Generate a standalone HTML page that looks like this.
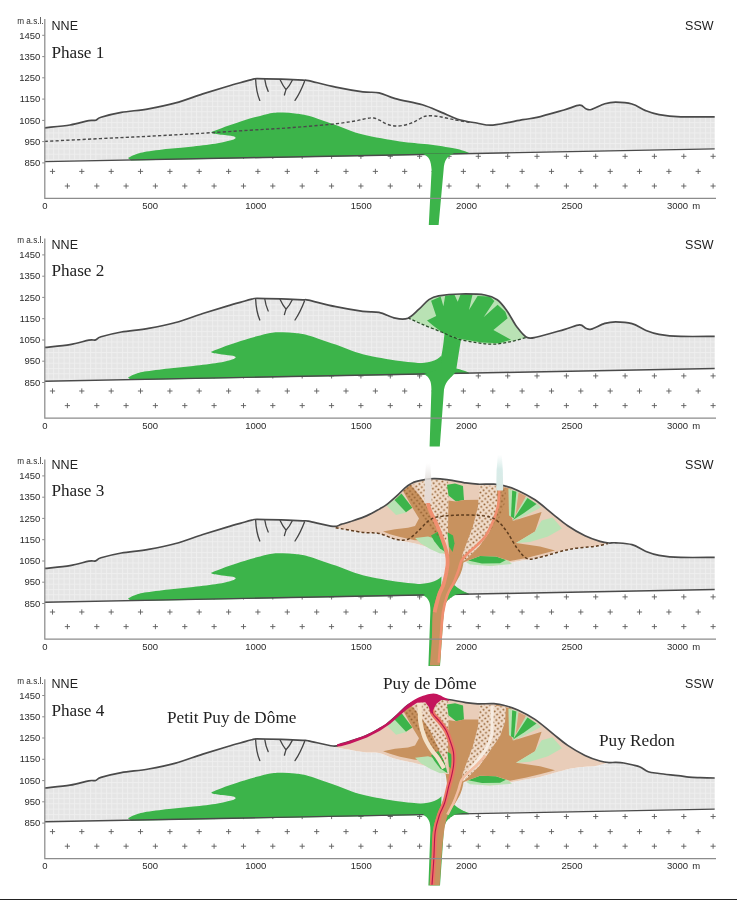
<!DOCTYPE html>
<html lang="en">
<head>
<meta charset="utf-8">
<title>Puy de Dôme growth phases</title>
<style>
html,body{margin:0;padding:0;background:#fff;}
body{width:737px;height:900px;overflow:hidden;position:relative;}
.b{position:absolute;left:0;top:898.8px;width:737px;height:1.2px;background:#222;}
svg{display:block;filter:blur(0.75px);}
.t{font-family:"Liberation Sans",sans-serif;font-size:9.5px;fill:#2a2a2a;}
.m{font-family:"Liberation Sans",sans-serif;font-size:8.2px;fill:#2a2a2a;}
.n{font-family:"Liberation Sans",sans-serif;font-size:12.5px;fill:#222;}
.p{font-family:"Liberation Serif",serif;font-size:17.2px;fill:#222;}
</style>
</head>
<body>
<svg width="737" height="900" viewBox="0 0 737 900">
<defs>
<pattern id="grid" width="5.3" height="5.3" patternUnits="userSpaceOnUse">
<rect width="5.3" height="5.3" fill="#e5e5e5"/>
<path d="M0 0.5H5.3M0.5 0V5.3" stroke="#efefef" stroke-width="0.8" fill="none"/>
</pattern>
<linearGradient id="pl1" x1="0" y1="0" x2="0" y2="1">
<stop offset="0" stop-color="#e6e3e1" stop-opacity="0"/><stop offset="0.45" stop-color="#e3dfdc" stop-opacity="0.95"/><stop offset="1" stop-color="#e6d9d2"/>
</linearGradient>
<linearGradient id="pl2" x1="0" y1="0" x2="0" y2="1">
<stop offset="0" stop-color="#d9edea" stop-opacity="0"/><stop offset="0.4" stop-color="#d6ebe8" stop-opacity="0.95"/><stop offset="1" stop-color="#d9e9e4"/>
</linearGradient>
<pattern id="dotsT" width="5.6" height="5.6" patternUnits="userSpaceOnUse" patternTransform="rotate(8)">
<circle cx="1.4" cy="1.4" r="1" fill="#93602f"/>
<circle cx="4.2" cy="4.2" r="1" fill="#93602f"/>
</pattern>
</defs>
<rect width="737" height="900" fill="#fff"/>
<g transform="translate(0 0.0)">
<path d="M64.8 156.3h5.2M67.4 153.7v5.2M94.2 156.3h5.2M96.8 153.7v5.2M123.5 156.3h5.2M126.1 153.7v5.2M152.8 156.3h5.2M155.4 153.7v5.2M182.2 156.3h5.2M184.8 153.7v5.2M211.5 156.3h5.2M214.1 153.7v5.2M240.9 156.3h5.2M243.5 153.7v5.2M270.2 156.3h5.2M272.8 153.7v5.2M299.6 156.3h5.2M302.2 153.7v5.2M328.9 156.3h5.2M331.6 153.7v5.2M358.3 156.3h5.2M360.9 153.7v5.2M387.7 156.3h5.2M390.3 153.7v5.2M417.0 156.3h5.2M419.6 153.7v5.2M446.4 156.3h5.2M449.0 153.7v5.2M475.7 156.3h5.2M478.3 153.7v5.2M505.1 156.3h5.2M507.7 153.7v5.2M534.4 156.3h5.2M537.0 153.7v5.2M563.8 156.3h5.2M566.4 153.7v5.2M593.1 156.3h5.2M595.7 153.7v5.2M622.5 156.3h5.2M625.1 153.7v5.2M651.8 156.3h5.2M654.4 153.7v5.2M681.2 156.3h5.2M683.8 153.7v5.2M710.5 156.3h5.2M713.1 153.7v5.2M49.9 171.4h5.2M52.5 168.8v5.2M79.2 171.4h5.2M81.8 168.8v5.2M108.6 171.4h5.2M111.2 168.8v5.2M137.9 171.4h5.2M140.5 168.8v5.2M167.3 171.4h5.2M169.9 168.8v5.2M196.6 171.4h5.2M199.2 168.8v5.2M226.0 171.4h5.2M228.6 168.8v5.2M255.3 171.4h5.2M257.9 168.8v5.2M284.7 171.4h5.2M287.3 168.8v5.2M314.1 171.4h5.2M316.7 168.8v5.2M343.4 171.4h5.2M346.0 168.8v5.2M372.8 171.4h5.2M375.4 168.8v5.2M402.1 171.4h5.2M404.7 168.8v5.2M431.5 171.4h5.2M434.1 168.8v5.2M460.8 171.4h5.2M463.4 168.8v5.2M490.2 171.4h5.2M492.8 168.8v5.2M519.5 171.4h5.2M522.1 168.8v5.2M548.9 171.4h5.2M551.5 168.8v5.2M578.2 171.4h5.2M580.8 168.8v5.2M607.6 171.4h5.2M610.2 168.8v5.2M636.9 171.4h5.2M639.5 168.8v5.2M666.3 171.4h5.2M668.9 168.8v5.2M695.6 171.4h5.2M698.2 168.8v5.2M64.8 186.0h5.2M67.4 183.4v5.2M94.2 186.0h5.2M96.8 183.4v5.2M123.5 186.0h5.2M126.1 183.4v5.2M152.8 186.0h5.2M155.4 183.4v5.2M182.2 186.0h5.2M184.8 183.4v5.2M211.5 186.0h5.2M214.1 183.4v5.2M240.9 186.0h5.2M243.5 183.4v5.2M270.2 186.0h5.2M272.8 183.4v5.2M299.6 186.0h5.2M302.2 183.4v5.2M328.9 186.0h5.2M331.6 183.4v5.2M358.3 186.0h5.2M360.9 183.4v5.2M387.7 186.0h5.2M390.3 183.4v5.2M417.0 186.0h5.2M419.6 183.4v5.2M446.4 186.0h5.2M449.0 183.4v5.2M475.7 186.0h5.2M478.3 183.4v5.2M505.1 186.0h5.2M507.7 183.4v5.2M534.4 186.0h5.2M537.0 183.4v5.2M563.8 186.0h5.2M566.4 183.4v5.2M593.1 186.0h5.2M595.7 183.4v5.2M622.5 186.0h5.2M625.1 183.4v5.2M651.8 186.0h5.2M654.4 183.4v5.2M681.2 186.0h5.2M683.8 183.4v5.2M710.5 186.0h5.2M713.1 183.4v5.2" stroke="#5c5c5c" stroke-width="0.9" fill="none"/>
<path d="M44.8 127.8 C49.0 127.3 62.7 126.2 70.0 125.0 C77.3 123.8 84.5 121.4 88.8 120.6 C93.1 119.8 93.6 120.9 95.6 120.3 C97.6 119.7 96.7 118.5 101.0 117.2 C105.3 115.9 113.5 113.8 121.4 112.4 C129.3 111.0 139.4 110.4 148.5 108.8 C157.6 107.2 166.6 105.4 175.7 102.9 C184.8 100.4 194.2 96.6 202.8 93.9 C211.4 91.2 220.0 88.6 227.0 86.5 C234.0 84.4 240.8 82.6 245.0 81.4 C249.2 80.2 250.5 79.9 252.5 79.4 C254.5 79.0 252.2 78.7 257.0 78.7 C261.8 78.7 273.7 79.0 281.4 79.2 C289.1 79.5 298.5 80.0 303.0 80.2 C307.5 80.4 303.1 79.4 308.5 80.6 C313.9 81.8 326.6 85.2 335.7 87.1 C344.8 89.0 355.6 90.8 362.8 91.8 C370.0 92.8 373.6 91.7 379.0 92.8 C384.4 93.9 388.1 96.6 395.3 98.6 C402.5 100.6 414.7 102.5 422.4 104.8 C430.1 107.1 435.5 110.0 441.4 112.4 C447.3 114.8 451.8 117.4 457.7 119.2 C463.6 121.0 470.8 122.0 476.7 123.0 C482.6 124.0 485.3 125.6 493.0 125.1 C500.7 124.5 515.5 121.0 522.8 119.7 C530.1 118.4 530.1 119.0 537.0 117.4 C543.9 115.8 556.9 112.0 564.0 110.0 C571.1 108.0 576.0 105.4 579.6 105.2 C583.2 105.0 583.8 108.0 585.8 108.7 C587.8 109.4 588.1 110.3 591.3 109.5 C594.5 108.7 600.7 105.0 604.8 103.8 C608.9 102.6 611.2 102.2 615.7 102.2 C620.2 102.2 627.0 102.6 632.0 104.0 C637.0 105.4 641.0 108.8 645.5 110.6 C650.0 112.4 653.1 113.7 659.0 114.7 C664.9 115.7 671.5 116.5 680.8 116.8 C690.1 117.1 709.1 116.8 714.7 116.8 L714.7 148.9 L44.8 161.6 Z" fill="url(#grid)"/>
<path d="M128.0 158.0 C129.0 157.5 131.3 156.0 134.0 155.0 C136.7 154.0 138.6 153.0 144.4 152.0 C150.2 151.0 160.8 149.7 168.9 148.8 C177.1 147.9 185.2 147.3 193.3 146.4 C201.4 145.5 211.6 144.2 217.7 143.2 C223.8 142.2 227.0 141.4 230.0 140.6 C233.0 139.8 235.0 138.9 235.5 138.2 C236.0 137.5 235.2 136.8 233.0 136.2 C230.8 135.6 225.4 135.3 222.0 134.8 C218.6 134.3 213.8 133.8 212.5 133.2 C211.2 132.6 209.3 133.0 214.0 131.0 C218.7 129.0 231.7 124.2 240.7 121.4 C249.7 118.6 261.0 115.4 267.8 113.9 C274.6 112.4 276.9 112.7 281.4 112.6 C285.9 112.5 290.5 112.9 295.0 113.4 C299.5 113.9 301.7 113.9 308.5 115.8 C315.3 117.7 326.6 121.9 335.7 125.0 C344.8 128.1 352.1 131.9 362.8 134.6 C373.5 137.3 389.2 139.8 400.0 141.4 C410.8 143.0 418.6 143.1 427.8 144.3 C437.0 145.5 448.2 147.2 455.0 148.6 C461.8 150.0 466.2 151.9 468.5 152.6 L469 154.1 L131 160.5 Z" fill="#3cb44a"/>
<path d="M44.8 161.6 L714.7 148.9" stroke="#4a4a4a" stroke-width="1.4" fill="none"/>
<path d="M423 153.9 C429 156.5 431 160 431.6 170 L428.8 225 L438.6 225 L443.6 170 C444.2 160 447 156.5 454 153.3 Z" fill="#3cb44a"/>
<path d="M44.8 141.4 C54.0 140.9 82.5 139.5 100.0 138.6 C117.5 137.7 133.3 137.1 150.0 136.2 C166.7 135.3 183.3 134.4 200.0 133.4 C216.7 132.4 235.1 131.1 250.0 130.2 C264.9 129.3 276.2 128.8 289.5 127.8 C302.8 126.8 319.1 125.5 330.0 124.4 C340.9 123.3 348.8 122.0 355.0 121.0 C361.2 120.0 363.9 118.9 367.0 118.4 C370.1 117.9 371.5 117.7 373.7 118.0 C375.9 118.3 377.8 119.4 380.0 120.4 C382.2 121.4 384.5 123.3 387.0 124.2 C389.5 125.1 392.3 125.8 395.0 126.0 C397.7 126.2 400.7 125.9 403.4 125.4 C406.1 124.9 408.7 124.0 411.0 123.2 C413.3 122.4 415.0 121.4 417.0 120.4 C419.0 119.4 421.2 117.8 423.0 117.0 C424.8 116.2 425.8 116.0 427.8 115.8 C429.8 115.6 432.7 115.8 435.0 116.0 C437.3 116.2 438.9 116.5 441.4 117.0 C443.9 117.5 447.3 118.2 450.0 118.8 C452.7 119.4 454.4 119.8 457.7 120.4 C461.0 121.0 467.9 122.1 470.0 122.4" stroke="#4a4a4a" stroke-width="1.4" fill="none" stroke-dasharray="3.2 2.2"/>
<path d="M255.6 79 C256 88 257.5 95 259.8 100.4 M264.8 79.4 C265.4 84 266.6 88 268.2 91.4 M280 79.6 C281.5 83 283.5 86.5 286 89.6 M292.3 80.2 C290.5 84 288.5 87 286 89.6 C285.4 91.5 285 93 284.4 95 M304.6 81.2 C302 88 299 94.5 295 100.4" fill="none" stroke="#444" stroke-width="1.3" stroke-linecap="round"/>
<path d="M44.8 127.8 C49.0 127.3 62.7 126.2 70.0 125.0 C77.3 123.8 84.5 121.4 88.8 120.6 C93.1 119.8 93.6 120.9 95.6 120.3 C97.6 119.7 96.7 118.5 101.0 117.2 C105.3 115.9 113.5 113.8 121.4 112.4 C129.3 111.0 139.4 110.4 148.5 108.8 C157.6 107.2 166.6 105.4 175.7 102.9 C184.8 100.4 194.2 96.6 202.8 93.9 C211.4 91.2 220.0 88.6 227.0 86.5 C234.0 84.4 240.8 82.6 245.0 81.4 C249.2 80.2 250.5 79.9 252.5 79.4 C254.5 79.0 252.2 78.7 257.0 78.7 C261.8 78.7 273.7 79.0 281.4 79.2 C289.1 79.5 298.5 80.0 303.0 80.2 C307.5 80.4 303.1 79.4 308.5 80.6 C313.9 81.8 326.6 85.2 335.7 87.1 C344.8 89.0 355.6 90.8 362.8 91.8 C370.0 92.8 373.6 91.7 379.0 92.8 C384.4 93.9 388.1 96.6 395.3 98.6 C402.5 100.6 414.7 102.5 422.4 104.8 C430.1 107.1 435.5 110.0 441.4 112.4 C447.3 114.8 451.8 117.4 457.7 119.2 C463.6 121.0 470.8 122.0 476.7 123.0 C482.6 124.0 485.3 125.6 493.0 125.1 C500.7 124.5 515.5 121.0 522.8 119.7 C530.1 118.4 530.1 119.0 537.0 117.4 C543.9 115.8 556.9 112.0 564.0 110.0 C571.1 108.0 576.0 105.4 579.6 105.2 C583.2 105.0 583.8 108.0 585.8 108.7 C587.8 109.4 588.1 110.3 591.3 109.5 C594.5 108.7 600.7 105.0 604.8 103.8 C608.9 102.6 611.2 102.2 615.7 102.2 C620.2 102.2 627.0 102.6 632.0 104.0 C637.0 105.4 641.0 108.8 645.5 110.6 C650.0 112.4 653.1 113.7 659.0 114.7 C664.9 115.7 671.5 116.5 680.8 116.8 C690.1 117.1 709.1 116.8 714.7 116.8" stroke="#4a4a4a" stroke-width="1.7" fill="none" stroke-linejoin="round"/>
<path d="M44.8 19V198.4H716" fill="none" stroke="#8c8c8c" stroke-width="1.25"/>
<text x="40.3" y="38.5" class="t" text-anchor="end">1450</text>
<text x="40.3" y="59.8" class="t" text-anchor="end">1350</text>
<text x="40.3" y="81.0" class="t" text-anchor="end">1250</text>
<text x="40.3" y="102.3" class="t" text-anchor="end">1150</text>
<text x="40.3" y="123.6" class="t" text-anchor="end">1050</text>
<text x="40.3" y="144.8" class="t" text-anchor="end">950</text>
<text x="40.3" y="166.1" class="t" text-anchor="end">850</text>
<path d="M42.2 35.3H44.8M42.2 56.6H44.8M42.2 77.8H44.8M42.2 99.1H44.8M42.2 120.4H44.8M42.2 141.6H44.8M42.2 162.9H44.8" stroke="#8c8c8c" stroke-width="1"/>
<text x="43.6" y="23.6" class="m" text-anchor="end">m a.s.l.</text>
<text x="44.8" y="209.2" class="t" text-anchor="middle">0</text>
<text x="150.2" y="209.2" class="t" text-anchor="middle">500</text>
<text x="255.7" y="209.2" class="t" text-anchor="middle">1000</text>
<text x="361.2" y="209.2" class="t" text-anchor="middle">1500</text>
<text x="466.6" y="209.2" class="t" text-anchor="middle">2000</text>
<text x="572.0" y="209.2" class="t" text-anchor="middle">2500</text>
<text x="666.9" y="209.2" class="t" style="word-spacing:1.6px">3000 m</text>
<text x="51.6" y="30.4" class="n">NNE</text>
<text x="713.6" y="30.4" class="n" text-anchor="end">SSW</text>
<text x="51.4" y="58.3" class="p">Phase 1</text>
</g>
<g transform="translate(0 219.6)">
<path d="M64.8 156.3h5.2M67.4 153.7v5.2M94.2 156.3h5.2M96.8 153.7v5.2M123.5 156.3h5.2M126.1 153.7v5.2M152.8 156.3h5.2M155.4 153.7v5.2M182.2 156.3h5.2M184.8 153.7v5.2M211.5 156.3h5.2M214.1 153.7v5.2M240.9 156.3h5.2M243.5 153.7v5.2M270.2 156.3h5.2M272.8 153.7v5.2M299.6 156.3h5.2M302.2 153.7v5.2M328.9 156.3h5.2M331.6 153.7v5.2M358.3 156.3h5.2M360.9 153.7v5.2M387.7 156.3h5.2M390.3 153.7v5.2M417.0 156.3h5.2M419.6 153.7v5.2M446.4 156.3h5.2M449.0 153.7v5.2M475.7 156.3h5.2M478.3 153.7v5.2M505.1 156.3h5.2M507.7 153.7v5.2M534.4 156.3h5.2M537.0 153.7v5.2M563.8 156.3h5.2M566.4 153.7v5.2M593.1 156.3h5.2M595.7 153.7v5.2M622.5 156.3h5.2M625.1 153.7v5.2M651.8 156.3h5.2M654.4 153.7v5.2M681.2 156.3h5.2M683.8 153.7v5.2M710.5 156.3h5.2M713.1 153.7v5.2M49.9 171.4h5.2M52.5 168.8v5.2M79.2 171.4h5.2M81.8 168.8v5.2M108.6 171.4h5.2M111.2 168.8v5.2M137.9 171.4h5.2M140.5 168.8v5.2M167.3 171.4h5.2M169.9 168.8v5.2M196.6 171.4h5.2M199.2 168.8v5.2M226.0 171.4h5.2M228.6 168.8v5.2M255.3 171.4h5.2M257.9 168.8v5.2M284.7 171.4h5.2M287.3 168.8v5.2M314.1 171.4h5.2M316.7 168.8v5.2M343.4 171.4h5.2M346.0 168.8v5.2M372.8 171.4h5.2M375.4 168.8v5.2M402.1 171.4h5.2M404.7 168.8v5.2M431.5 171.4h5.2M434.1 168.8v5.2M460.8 171.4h5.2M463.4 168.8v5.2M490.2 171.4h5.2M492.8 168.8v5.2M519.5 171.4h5.2M522.1 168.8v5.2M548.9 171.4h5.2M551.5 168.8v5.2M578.2 171.4h5.2M580.8 168.8v5.2M607.6 171.4h5.2M610.2 168.8v5.2M636.9 171.4h5.2M639.5 168.8v5.2M666.3 171.4h5.2M668.9 168.8v5.2M695.6 171.4h5.2M698.2 168.8v5.2M64.8 186.0h5.2M67.4 183.4v5.2M94.2 186.0h5.2M96.8 183.4v5.2M123.5 186.0h5.2M126.1 183.4v5.2M152.8 186.0h5.2M155.4 183.4v5.2M182.2 186.0h5.2M184.8 183.4v5.2M211.5 186.0h5.2M214.1 183.4v5.2M240.9 186.0h5.2M243.5 183.4v5.2M270.2 186.0h5.2M272.8 183.4v5.2M299.6 186.0h5.2M302.2 183.4v5.2M328.9 186.0h5.2M331.6 183.4v5.2M358.3 186.0h5.2M360.9 183.4v5.2M387.7 186.0h5.2M390.3 183.4v5.2M417.0 186.0h5.2M419.6 183.4v5.2M446.4 186.0h5.2M449.0 183.4v5.2M475.7 186.0h5.2M478.3 183.4v5.2M505.1 186.0h5.2M507.7 183.4v5.2M534.4 186.0h5.2M537.0 183.4v5.2M563.8 186.0h5.2M566.4 183.4v5.2M593.1 186.0h5.2M595.7 183.4v5.2M622.5 186.0h5.2M625.1 183.4v5.2M651.8 186.0h5.2M654.4 183.4v5.2M681.2 186.0h5.2M683.8 183.4v5.2M710.5 186.0h5.2M713.1 183.4v5.2" stroke="#5c5c5c" stroke-width="0.9" fill="none"/>
<path d="M44.8 127.8 C49.0 127.3 62.7 126.2 70.0 125.0 C77.3 123.8 84.5 121.4 88.8 120.6 C93.1 119.8 93.6 120.9 95.6 120.3 C97.6 119.7 96.7 118.5 101.0 117.2 C105.3 115.9 113.5 113.8 121.4 112.4 C129.3 111.0 139.4 110.4 148.5 108.8 C157.6 107.2 166.6 105.4 175.7 102.9 C184.8 100.4 194.2 96.6 202.8 93.9 C211.4 91.2 220.0 88.6 227.0 86.5 C234.0 84.4 240.8 82.6 245.0 81.4 C249.2 80.2 250.5 79.9 252.5 79.4 C254.5 79.0 252.2 78.7 257.0 78.7 C261.8 78.7 273.7 79.0 281.4 79.2 C289.1 79.5 298.5 80.0 303.0 80.2 C307.5 80.4 303.1 79.4 308.5 80.6 C313.9 81.8 326.6 85.2 335.7 87.1 C344.8 89.0 355.6 90.8 362.8 91.8 C370.0 92.8 373.6 91.7 379.0 92.8 C384.4 93.9 390.5 97.6 395.3 98.6 C400.1 99.6 404.1 100.1 408.0 98.6 C411.9 97.1 415.5 92.7 419.0 89.6 C422.5 86.5 425.6 82.2 428.9 80.0 C432.2 77.8 433.3 77.1 438.6 76.2 C443.9 75.3 452.9 74.5 460.6 74.4 C468.3 74.3 478.9 74.4 485.0 75.4 C491.1 76.4 493.5 77.6 497.2 80.2 C500.9 82.8 503.7 86.8 507.0 91.3 C510.3 95.8 513.5 102.8 516.8 107.2 C520.1 111.6 523.2 116.0 526.6 117.7 C530.0 119.4 530.8 118.7 537.0 117.4 C543.2 116.1 556.9 112.0 564.0 110.0 C571.1 108.0 576.0 105.4 579.6 105.2 C583.2 105.0 583.8 108.0 585.8 108.7 C587.8 109.4 588.1 110.3 591.3 109.5 C594.5 108.7 600.7 105.0 604.8 103.8 C608.9 102.6 611.2 102.2 615.7 102.2 C620.2 102.2 627.0 102.6 632.0 104.0 C637.0 105.4 641.0 108.8 645.5 110.6 C650.0 112.4 653.1 113.7 659.0 114.7 C664.9 115.7 671.5 116.5 680.8 116.8 C690.1 117.1 709.1 116.8 714.7 116.8 L714.7 148.9 L44.8 161.6 Z" fill="url(#grid)"/>
<path d="M408.0 98.6 C409.8 97.1 415.5 92.7 419.0 89.6 C422.5 86.5 425.6 82.2 428.9 80.0 C432.2 77.8 433.3 77.1 438.6 76.2 C443.9 75.3 452.9 74.5 460.6 74.4 C468.3 74.3 478.9 74.4 485.0 75.4 C491.1 76.4 493.5 77.6 497.2 80.2 C500.9 82.8 503.7 86.8 507.0 91.3 C510.3 95.8 513.5 102.8 516.8 107.2 C520.1 111.6 525.0 116.0 526.6 117.7 L526.6 117.7 C523.8 118.5 515.6 121.1 510.0 122.2 C504.4 123.3 498.6 124.5 493.0 124.6 C487.4 124.7 482.6 123.9 476.7 123.0 C470.8 122.1 463.6 121.0 457.7 119.2 C451.8 117.4 447.3 114.8 441.4 112.4 C435.5 110.0 428.0 107.2 422.4 104.8 C416.8 102.4 410.4 99.3 408.0 98.2 Z" fill="#b9e2b4"/>
<path d="M128.0 158.0 C129.0 157.5 131.3 156.0 134.0 155.0 C136.7 154.0 138.6 153.0 144.4 152.0 C150.2 151.0 160.8 149.7 168.9 148.8 C177.1 147.9 185.2 147.3 193.3 146.4 C201.4 145.5 211.6 144.2 217.7 143.2 C223.8 142.2 227.0 141.4 230.0 140.6 C233.0 139.8 235.0 138.9 235.5 138.2 C236.0 137.5 235.2 136.8 233.0 136.2 C230.8 135.6 225.4 135.3 222.0 134.8 C218.6 134.3 213.8 133.8 212.5 133.2 C211.2 132.6 209.3 133.0 214.0 131.0 C218.7 129.0 231.7 124.2 240.7 121.4 C249.7 118.6 261.0 115.4 267.8 113.9 C274.6 112.4 276.9 112.7 281.4 112.6 C285.9 112.5 290.5 112.9 295.0 113.4 C299.5 113.9 301.7 113.9 308.5 115.8 C315.3 117.7 326.6 121.9 335.7 125.0 C344.8 128.1 352.1 131.9 362.8 134.6 C373.5 137.3 389.2 139.8 400.0 141.4 C410.8 143.0 418.6 143.1 427.8 144.3 C437.0 145.5 448.2 147.2 455.0 148.6 C461.8 150.0 466.2 151.9 468.5 152.6 L469 154.1 L131 160.5 Z" fill="#3cb44a"/>
<path d="M44.8 161.6 L714.7 148.9" stroke="#4a4a4a" stroke-width="1.4" fill="none"/>
<path d="M429.6 226.8 L431.4 170 C431.4 162 430 158 424 154.4 L438 150 C441 140 443 130 444.5 114 L461 120 C459 132 457.5 142 456 152 C452 158 446 160 444 170 L439.8 226.8 Z" fill="#3cb44a"/><path d="M416 144 C428 143.4 436 142 441.5 136 L441 151 L416 151 Z" fill="#3cb44a"/>
<path d="M444.0 114.2 L433.0 105.9 L427.0 100.8 L436.2 96.4 L431.1 81.2 L440.6 76.8 L443.4 86.7 L445.2 76.2 L454.4 75.0 L457.7 82.1 L460.6 74.6 L472.6 74.6 L469.0 90.3 L477.6 76.4 L489.8 77.0 L494.4 81.4 L483.6 97.7 L497.6 85.2 L505.3 92.2 L507.6 98.6 L493.4 110.5 L511.0 120.2 L499.0 123.6 L482.4 123.0 L460.5 119.4 Z" fill="#3cb44a"/>
<path d="M408.0 98.2 C410.4 99.3 416.8 102.4 422.4 104.8 C428.0 107.2 435.5 110.0 441.4 112.4 C447.3 114.8 451.8 117.4 457.7 119.2 C463.6 121.0 470.8 122.1 476.7 123.0 C482.6 123.9 487.4 124.7 493.0 124.6 C498.6 124.5 504.4 123.3 510.0 122.2 C515.6 121.1 523.8 118.5 526.6 117.7" stroke="#2a4a2a" stroke-width="1.3" fill="none" stroke-dasharray="3 2"/>
<path d="M255.6 79 C256 88 257.5 95 259.8 100.4 M264.8 79.4 C265.4 84 266.6 88 268.2 91.4 M280 79.6 C281.5 83 283.5 86.5 286 89.6 M292.3 80.2 C290.5 84 288.5 87 286 89.6 C285.4 91.5 285 93 284.4 95 M304.6 81.2 C302 88 299 94.5 295 100.4" fill="none" stroke="#444" stroke-width="1.3" stroke-linecap="round"/>
<path d="M44.8 127.8 C49.0 127.3 62.7 126.2 70.0 125.0 C77.3 123.8 84.5 121.4 88.8 120.6 C93.1 119.8 93.6 120.9 95.6 120.3 C97.6 119.7 96.7 118.5 101.0 117.2 C105.3 115.9 113.5 113.8 121.4 112.4 C129.3 111.0 139.4 110.4 148.5 108.8 C157.6 107.2 166.6 105.4 175.7 102.9 C184.8 100.4 194.2 96.6 202.8 93.9 C211.4 91.2 220.0 88.6 227.0 86.5 C234.0 84.4 240.8 82.6 245.0 81.4 C249.2 80.2 250.5 79.9 252.5 79.4 C254.5 79.0 252.2 78.7 257.0 78.7 C261.8 78.7 273.7 79.0 281.4 79.2 C289.1 79.5 298.5 80.0 303.0 80.2 C307.5 80.4 303.1 79.4 308.5 80.6 C313.9 81.8 326.6 85.2 335.7 87.1 C344.8 89.0 355.6 90.8 362.8 91.8 C370.0 92.8 373.6 91.7 379.0 92.8 C384.4 93.9 390.5 97.6 395.3 98.6 C400.1 99.6 404.1 100.1 408.0 98.6 C411.9 97.1 415.5 92.7 419.0 89.6 C422.5 86.5 425.6 82.2 428.9 80.0 C432.2 77.8 433.3 77.1 438.6 76.2 C443.9 75.3 452.9 74.5 460.6 74.4 C468.3 74.3 478.9 74.4 485.0 75.4 C491.1 76.4 493.5 77.6 497.2 80.2 C500.9 82.8 503.7 86.8 507.0 91.3 C510.3 95.8 513.5 102.8 516.8 107.2 C520.1 111.6 523.2 116.0 526.6 117.7 C530.0 119.4 530.8 118.7 537.0 117.4 C543.2 116.1 556.9 112.0 564.0 110.0 C571.1 108.0 576.0 105.4 579.6 105.2 C583.2 105.0 583.8 108.0 585.8 108.7 C587.8 109.4 588.1 110.3 591.3 109.5 C594.5 108.7 600.7 105.0 604.8 103.8 C608.9 102.6 611.2 102.2 615.7 102.2 C620.2 102.2 627.0 102.6 632.0 104.0 C637.0 105.4 641.0 108.8 645.5 110.6 C650.0 112.4 653.1 113.7 659.0 114.7 C664.9 115.7 671.5 116.5 680.8 116.8 C690.1 117.1 709.1 116.8 714.7 116.8" stroke="#4a4a4a" stroke-width="1.7" fill="none" stroke-linejoin="round"/>
<path d="M44.8 19V198.4H716" fill="none" stroke="#8c8c8c" stroke-width="1.25"/>
<text x="40.3" y="38.5" class="t" text-anchor="end">1450</text>
<text x="40.3" y="59.8" class="t" text-anchor="end">1350</text>
<text x="40.3" y="81.0" class="t" text-anchor="end">1250</text>
<text x="40.3" y="102.3" class="t" text-anchor="end">1150</text>
<text x="40.3" y="123.6" class="t" text-anchor="end">1050</text>
<text x="40.3" y="144.8" class="t" text-anchor="end">950</text>
<text x="40.3" y="166.1" class="t" text-anchor="end">850</text>
<path d="M42.2 35.3H44.8M42.2 56.6H44.8M42.2 77.8H44.8M42.2 99.1H44.8M42.2 120.4H44.8M42.2 141.6H44.8M42.2 162.9H44.8" stroke="#8c8c8c" stroke-width="1"/>
<text x="43.6" y="23.6" class="m" text-anchor="end">m a.s.l.</text>
<text x="44.8" y="209.2" class="t" text-anchor="middle">0</text>
<text x="150.2" y="209.2" class="t" text-anchor="middle">500</text>
<text x="255.7" y="209.2" class="t" text-anchor="middle">1000</text>
<text x="361.2" y="209.2" class="t" text-anchor="middle">1500</text>
<text x="466.6" y="209.2" class="t" text-anchor="middle">2000</text>
<text x="572.0" y="209.2" class="t" text-anchor="middle">2500</text>
<text x="666.9" y="209.2" class="t" style="word-spacing:1.6px">3000 m</text>
<text x="51.6" y="29.0" class="n">NNE</text>
<text x="713.6" y="29.0" class="n" text-anchor="end">SSW</text>
<text x="51.4" y="56.2" class="p">Phase 2</text>
</g>
<g transform="translate(0 440.6)">
<path d="M64.8 156.3h5.2M67.4 153.7v5.2M94.2 156.3h5.2M96.8 153.7v5.2M123.5 156.3h5.2M126.1 153.7v5.2M152.8 156.3h5.2M155.4 153.7v5.2M182.2 156.3h5.2M184.8 153.7v5.2M211.5 156.3h5.2M214.1 153.7v5.2M240.9 156.3h5.2M243.5 153.7v5.2M270.2 156.3h5.2M272.8 153.7v5.2M299.6 156.3h5.2M302.2 153.7v5.2M328.9 156.3h5.2M331.6 153.7v5.2M358.3 156.3h5.2M360.9 153.7v5.2M387.7 156.3h5.2M390.3 153.7v5.2M417.0 156.3h5.2M419.6 153.7v5.2M446.4 156.3h5.2M449.0 153.7v5.2M475.7 156.3h5.2M478.3 153.7v5.2M505.1 156.3h5.2M507.7 153.7v5.2M534.4 156.3h5.2M537.0 153.7v5.2M563.8 156.3h5.2M566.4 153.7v5.2M593.1 156.3h5.2M595.7 153.7v5.2M622.5 156.3h5.2M625.1 153.7v5.2M651.8 156.3h5.2M654.4 153.7v5.2M681.2 156.3h5.2M683.8 153.7v5.2M710.5 156.3h5.2M713.1 153.7v5.2M49.9 171.4h5.2M52.5 168.8v5.2M79.2 171.4h5.2M81.8 168.8v5.2M108.6 171.4h5.2M111.2 168.8v5.2M137.9 171.4h5.2M140.5 168.8v5.2M167.3 171.4h5.2M169.9 168.8v5.2M196.6 171.4h5.2M199.2 168.8v5.2M226.0 171.4h5.2M228.6 168.8v5.2M255.3 171.4h5.2M257.9 168.8v5.2M284.7 171.4h5.2M287.3 168.8v5.2M314.1 171.4h5.2M316.7 168.8v5.2M343.4 171.4h5.2M346.0 168.8v5.2M372.8 171.4h5.2M375.4 168.8v5.2M402.1 171.4h5.2M404.7 168.8v5.2M431.5 171.4h5.2M434.1 168.8v5.2M460.8 171.4h5.2M463.4 168.8v5.2M490.2 171.4h5.2M492.8 168.8v5.2M519.5 171.4h5.2M522.1 168.8v5.2M548.9 171.4h5.2M551.5 168.8v5.2M578.2 171.4h5.2M580.8 168.8v5.2M607.6 171.4h5.2M610.2 168.8v5.2M636.9 171.4h5.2M639.5 168.8v5.2M666.3 171.4h5.2M668.9 168.8v5.2M695.6 171.4h5.2M698.2 168.8v5.2M64.8 186.0h5.2M67.4 183.4v5.2M94.2 186.0h5.2M96.8 183.4v5.2M123.5 186.0h5.2M126.1 183.4v5.2M152.8 186.0h5.2M155.4 183.4v5.2M182.2 186.0h5.2M184.8 183.4v5.2M211.5 186.0h5.2M214.1 183.4v5.2M240.9 186.0h5.2M243.5 183.4v5.2M270.2 186.0h5.2M272.8 183.4v5.2M299.6 186.0h5.2M302.2 183.4v5.2M328.9 186.0h5.2M331.6 183.4v5.2M358.3 186.0h5.2M360.9 183.4v5.2M387.7 186.0h5.2M390.3 183.4v5.2M417.0 186.0h5.2M419.6 183.4v5.2M446.4 186.0h5.2M449.0 183.4v5.2M475.7 186.0h5.2M478.3 183.4v5.2M505.1 186.0h5.2M507.7 183.4v5.2M534.4 186.0h5.2M537.0 183.4v5.2M563.8 186.0h5.2M566.4 183.4v5.2M593.1 186.0h5.2M595.7 183.4v5.2M622.5 186.0h5.2M625.1 183.4v5.2M651.8 186.0h5.2M654.4 183.4v5.2M681.2 186.0h5.2M683.8 183.4v5.2M710.5 186.0h5.2M713.1 183.4v5.2" stroke="#5c5c5c" stroke-width="0.9" fill="none"/>
<path d="M44.8 127.8 C49.0 127.3 62.7 126.2 70.0 125.0 C77.3 123.8 84.5 121.4 88.8 120.6 C93.1 119.8 93.6 120.9 95.6 120.3 C97.6 119.7 96.7 118.5 101.0 117.2 C105.3 115.9 113.5 113.8 121.4 112.4 C129.3 111.0 139.4 110.4 148.5 108.8 C157.6 107.2 166.6 105.4 175.7 102.9 C184.8 100.4 194.2 96.6 202.8 93.9 C211.4 91.2 220.0 88.6 227.0 86.5 C234.0 84.4 240.8 82.6 245.0 81.4 C249.2 80.2 250.5 79.9 252.5 79.4 C254.5 79.0 252.2 78.7 257.0 78.7 C261.8 78.7 273.7 79.0 281.4 79.2 C289.1 79.5 298.5 80.0 303.0 80.2 C307.5 80.4 303.1 79.4 308.5 80.6 C313.9 81.8 326.6 85.2 335.7 87.1 C344.8 89.0 355.6 90.8 362.8 91.8 C370.0 92.8 373.6 91.7 379.0 92.8 C384.4 93.9 388.1 96.6 395.3 98.6 C402.5 100.6 414.7 102.5 422.4 104.8 C430.1 107.1 435.5 110.0 441.4 112.4 C447.3 114.8 451.8 117.4 457.7 119.2 C463.6 121.0 470.8 122.0 476.7 123.0 C482.6 124.0 485.3 125.6 493.0 125.1 C500.7 124.5 515.5 121.0 522.8 119.7 C530.1 118.4 530.1 119.0 537.0 117.4 C543.9 115.8 557.5 111.6 564.0 110.0 C570.5 108.4 572.0 108.2 576.0 107.6 C580.0 107.0 584.3 106.8 588.0 106.4 C591.7 106.0 595.2 105.6 598.0 105.2 C600.8 104.8 601.8 104.3 604.8 103.8 C607.8 103.3 611.2 102.2 615.7 102.2 C620.2 102.2 627.0 102.6 632.0 104.0 C637.0 105.4 641.0 108.8 645.5 110.6 C650.0 112.4 653.1 113.7 659.0 114.7 C664.9 115.7 671.5 116.5 680.8 116.8 C690.1 117.1 709.1 116.8 714.7 116.8 L714.7 148.9 L44.8 161.6 Z" fill="url(#grid)"/>
<path d="M333.0 85.8 C334.3 85.5 338.2 84.6 341.0 83.8 C343.8 83.0 345.7 82.7 350.0 81.2 C354.3 79.7 362.0 77.2 367.0 75.0 C372.0 72.8 376.7 69.9 380.0 68.1 C383.3 66.3 383.7 66.4 386.6 64.1 C389.5 61.8 394.6 57.2 397.6 54.5 C400.6 51.8 402.4 49.5 404.5 47.7 C406.6 45.9 407.8 44.8 410.0 43.6 C412.2 42.4 413.6 41.5 417.5 40.6 C421.4 39.7 428.6 38.3 433.7 38.1 C438.8 37.9 443.2 38.6 448.4 39.3 C453.6 40.0 459.8 41.5 464.7 42.2 C469.6 42.9 472.8 43.4 477.7 43.6 C482.6 43.8 489.4 43.2 493.9 43.5 C498.4 43.8 500.7 44.2 504.7 45.3 C508.7 46.3 512.8 47.5 517.8 49.8 C522.8 52.1 529.2 55.3 535.0 59.2 C540.8 63.1 547.0 68.9 552.5 73.2 C558.0 77.5 562.3 81.5 567.7 85.2 C573.1 88.9 579.6 92.6 585.0 95.2 C590.4 97.8 596.0 99.6 600.0 100.8 C604.0 102.0 607.5 102.1 609.0 102.4 L609.0 102.4 C607.2 102.9 601.5 104.5 598.0 105.2 C594.5 105.9 591.7 106.0 588.0 106.4 C584.3 106.8 580.0 107.0 576.0 107.6 C572.0 108.2 570.5 108.4 564.0 110.0 C557.5 111.6 543.9 115.8 537.0 117.4 C530.1 119.0 530.1 118.4 522.8 119.7 C515.5 121.0 500.7 124.5 493.0 125.1 C485.3 125.6 482.6 124.0 476.7 123.0 C470.8 122.0 463.6 121.0 457.7 119.2 C451.8 117.4 447.3 114.8 441.4 112.4 C435.5 110.0 430.1 107.1 422.4 104.8 C414.7 102.5 402.5 100.6 395.3 98.6 C388.1 96.6 384.4 93.9 379.0 92.8 C373.6 91.7 370.0 92.8 362.8 91.8 C355.6 90.8 340.7 88.1 335.7 87.1 C330.7 86.1 333.4 86.0 333.0 85.8 Z" fill="#e9cdb9"/>
<path d="M128.0 158.0 C129.0 157.5 131.3 156.0 134.0 155.0 C136.7 154.0 138.6 153.0 144.4 152.0 C150.2 151.0 160.8 149.7 168.9 148.8 C177.1 147.9 185.2 147.3 193.3 146.4 C201.4 145.5 211.6 144.2 217.7 143.2 C223.8 142.2 227.0 141.4 230.0 140.6 C233.0 139.8 235.0 138.9 235.5 138.2 C236.0 137.5 235.2 136.8 233.0 136.2 C230.8 135.6 225.4 135.3 222.0 134.8 C218.6 134.3 213.8 133.8 212.5 133.2 C211.2 132.6 209.3 133.0 214.0 131.0 C218.7 129.0 231.7 124.2 240.7 121.4 C249.7 118.6 261.0 115.4 267.8 113.9 C274.6 112.4 276.9 112.7 281.4 112.6 C285.9 112.5 290.5 112.9 295.0 113.4 C299.5 113.9 301.7 113.9 308.5 115.8 C315.3 117.7 326.6 121.9 335.7 125.0 C344.8 128.1 352.1 131.9 362.8 134.6 C373.5 137.3 389.2 139.8 400.0 141.4 C410.8 143.0 418.6 143.1 427.8 144.3 C437.0 145.5 448.2 147.2 455.0 148.6 C461.8 150.0 466.2 151.9 468.5 152.6 L469 154.1 L131 160.5 Z" fill="#3cb44a"/>
<path d="M44.8 161.6 L714.7 148.9" stroke="#4a4a4a" stroke-width="1.4" fill="none"/>
<path d="M466.0 121.5 L480.0 115.5 L496.0 116.0 L508.0 120.0 L512.0 123.5 L490.0 125.4 L470.0 124.0 Z" fill="#b9e2b4"/>
<path d="M468.0 120.0 L480.0 115.5 L496.0 116.0 L506.0 119.5 L500.0 122.6 L482.0 122.8 Z" fill="#3cb44a"/>
<path d="M386.5 65.0 L395.0 58.5 L406.5 71.9 L396.0 74.5 Z" fill="#b9e2b4"/>
<path d="M394.5 59.4 L401.5 52.8 L412.4 67.2 L406.0 71.6 Z" fill="#3cb44a"/>
<path d="M383.0 91.0 L395.0 88.6 L408.0 87.2 L415.0 85.4 L419.0 78.0 L412.4 67.2 L403.0 50.4 L410.5 44.2 L422.0 58.0 L430.0 70.0 L437.0 85.0 L442.0 98.0 L446.0 112.0 L440.0 104.0 L430.0 100.0 L415.0 99.6 L400.0 96.5 L390.0 93.6 Z" fill="#c8925f"/>
<path d="M415.0 97.5 L428.0 96.0 L438.0 99.0 L446.0 112.5 L440.0 113.0 L430.0 108.5 L421.0 103.0 Z" fill="#b9e2b4"/>
<path d="M431.0 95.0 L438.3 90.8 L444.2 100.0 L447.5 113.0 L440.0 108.0 L434.3 100.6 Z" fill="#3cb44a"/>
<path d="M414.0 42.4 L426.0 39.5 L431.6 38.6 L448.0 39.6 L448.5 60.0 L448.0 92.0 L446.0 106.0 L438.0 86.0 L430.0 70.0 L422.0 58.0 Z" fill="#f0dccb"/>
<path d="M403.0 50.4 L410.5 44.2 L426.0 39.8 L431.6 38.6 L448.0 39.6 L448.5 60.0 L448.0 92.0 L445.0 104.0 L432.0 90.0 L424.0 80.0 L414.0 66.0 Z" fill="url(#dotsT)"/>
<path d="M447.0 44.2 L455.0 43.0 L463.0 45.4 L464.0 59.4 L456.0 61.0 L448.5 55.0 Z" fill="#3cb44a"/>
<path d="M448.5 59.8 L456.0 61.0 L464.0 59.4 L479.4 59.2 L478.0 70.0 L473.0 86.0 L467.0 102.0 L461.0 118.0 L458.0 128.0 L450.0 128.0 L449.0 112.0 L448.0 90.0 Z" fill="#c8925f"/>
<path d="M447.4 91.6 L453.0 95.0 L454.5 103.0 L452.6 111.5 L449.0 106.0 Z" fill="#3cb44a"/>
<path d="M496.0 44.0 L502.6 46.3 L511.3 48.4 L509.0 72.0 L513.4 80.2 L541.6 71.5 L535.0 91.0 L516.0 102.5 L540.0 106.0 L555.0 110.0 L540.0 114.0 L526.4 117.3 L510.0 120.5 L496.0 116.0 L480.0 115.5 L468.0 120.0 L459.0 124.0 L468.0 117.0 L479.0 106.0 L489.0 92.0 L495.5 75.0 Z" fill="#c8925f"/>
<path d="M479.4 43.8 L496.5 44.0 L497.6 60.0 L496.0 75.0 L489.0 92.0 L479.0 106.0 L468.0 117.0 L459.0 124.0 L467.0 102.0 L473.0 86.0 L478.0 66.0 Z" fill="#f0dccb"/>
<path d="M479.4 43.8 L506.0 46.8 L505.0 62.0 L500.0 76.0 L489.0 92.0 L479.0 106.0 L468.0 117.0 L459.0 124.0 L467.0 102.0 L473.0 86.0 L478.0 66.0 Z" fill="url(#dotsT)"/>
<path d="M509.0 75.0 L508.4 48.2 L518.6 51.2 L514.4 78.0 Z" fill="#b9e2b4"/>
<path d="M511.0 76.0 L512.2 50.0 L516.4 51.2 L514.0 78.0 Z" fill="#3cb44a"/>
<path d="M515.0 79.0 L518.5 52.0 L526.0 55.5 L517.0 80.0 Z" fill="#d9a27c"/>
<path d="M512.3 80.0 L526.0 55.8 L537.5 63.6 L541.0 66.8 L520.0 77.6 Z" fill="#b9e2b4"/>
<path d="M513.0 79.4 L527.5 57.4 L536.5 63.4 L524.0 72.4 Z" fill="#3cb44a"/>
<path d="M516.0 102.5 L535.0 91.0 L541.6 80.0 L552.5 77.0 L562.0 88.0 L548.0 96.0 L530.0 101.5 Z" fill="#b9e2b4"/>
<path d="M428.4 225.4 L430.4 170 C430.4 162 429 158 423 154.4 L451 142 L458 147.5 L466 152.4 L456 153.8 C449 158 445 160 443.8 170 L440 225.4 Z" fill="#3cb44a"/>
<path d="M416 143.6 C428 143.2 436 141.6 441.5 136 L441 151 L416 151 Z" fill="#3cb44a"/>
<path d="M445.6 113.9 C445.8 116.3 447.6 123.5 447.0 128.3 C446.4 133.1 443.6 138.5 442.0 142.8 C440.4 147.2 438.7 149.6 437.2 154.4 C435.7 159.2 433.7 164.2 432.8 171.7 C431.9 179.1 432.3 190.2 431.8 199.1 C431.3 208.0 430.2 220.7 429.9 225.0 L439.7 225.0 C440.0 220.7 440.7 208.0 441.4 199.1 C442.1 190.2 442.9 179.1 444.0 171.7 C445.1 164.2 446.1 159.2 448.0 154.4 C449.9 149.6 453.2 146.5 455.4 142.8 C457.6 139.1 459.7 135.5 461.0 132.0 C462.3 128.5 463.2 125.0 463.4 122.0 C463.6 119.0 462.2 115.3 462.0 114.0 Z" fill="#c8925f"/>
<path d="M499.6 47.0 C499.4 49.5 499.1 58.0 498.6 62.0 C498.1 66.0 497.6 67.3 496.5 71.0 C495.4 74.7 493.5 79.9 491.7 84.0 C489.9 88.1 487.9 92.0 485.5 95.4 C483.1 98.8 479.9 101.7 477.0 104.5 C474.1 107.3 470.6 109.9 468.0 112.5 C465.4 115.1 463.2 117.1 461.6 120.0 C460.0 122.9 459.7 126.4 458.4 130.0 C457.1 133.6 455.8 137.4 454.0 141.5 C452.2 145.6 449.2 149.4 447.4 154.4 C445.6 159.4 444.1 164.3 443.0 171.7 C441.9 179.1 441.3 190.6 440.6 199.0 C439.9 207.4 439.1 218.2 438.8 222.0" fill="none" stroke="#f08f70" stroke-width="2.6" stroke-linecap="butt" stroke-linejoin="round"/>
<path d="M428.0 40.0 C428.0 43.8 427.7 57.6 428.2 62.9 C428.7 68.2 429.7 68.8 431.0 72.0 C432.3 75.2 434.3 78.6 435.8 81.9 C437.3 85.2 438.6 88.2 440.0 92.0 C441.4 95.8 443.2 100.7 444.4 104.4 C445.6 108.1 446.5 110.6 447.0 114.0 C447.5 117.4 447.9 120.2 447.4 125.0 C446.9 129.8 445.2 137.9 443.8 142.8 C442.4 147.7 440.5 149.6 439.0 154.4 C437.5 159.2 435.3 168.8 434.6 171.7" fill="none" stroke="#f08f70" stroke-width="3.8" stroke-linecap="butt" stroke-linejoin="round"/>
<path d="M335.7 87.1 C340.2 87.9 355.6 90.8 362.8 91.8 C370.0 92.8 373.6 91.7 379.0 92.8 C384.4 93.9 390.5 97.6 395.3 98.6 C400.1 99.6 404.1 100.1 408.0 98.6 C411.9 97.1 415.5 92.7 419.0 89.6 C422.5 86.5 425.6 82.2 428.9 80.0 C432.2 77.8 433.3 77.1 438.6 76.2 C443.9 75.3 452.9 74.5 460.6 74.4 C468.3 74.3 478.9 74.4 485.0 75.4 C491.1 76.4 493.5 77.6 497.2 80.2 C500.9 82.8 503.7 86.8 507.0 91.3 C510.3 95.8 513.5 102.8 516.8 107.2 C520.1 111.6 523.2 116.0 526.6 117.7 C530.0 119.4 530.8 118.7 537.0 117.4 C543.2 116.1 557.5 111.6 564.0 110.0 C570.5 108.4 572.0 108.2 576.0 107.6 C580.0 107.0 584.3 106.8 588.0 106.4 C591.7 106.0 594.7 105.8 598.0 105.2 C601.3 104.6 606.3 103.2 608.0 102.8" stroke="#5e3c1e" stroke-width="1.5" fill="none" stroke-dasharray="3 2.2"/>
<path d="M255.6 79 C256 88 257.5 95 259.8 100.4 M264.8 79.4 C265.4 84 266.6 88 268.2 91.4 M280 79.6 C281.5 83 283.5 86.5 286 89.6 M292.3 80.2 C290.5 84 288.5 87 286 89.6 C285.4 91.5 285 93 284.4 95 M304.6 81.2 C302 88 299 94.5 295 100.4" fill="none" stroke="#444" stroke-width="1.3" stroke-linecap="round"/>
<path d="M44.8 127.8 C49.0 127.3 62.7 126.2 70.0 125.0 C77.3 123.8 84.5 121.4 88.8 120.6 C93.1 119.8 93.6 120.9 95.6 120.3 C97.6 119.7 96.7 118.5 101.0 117.2 C105.3 115.9 113.5 113.8 121.4 112.4 C129.3 111.0 139.4 110.4 148.5 108.8 C157.6 107.2 166.6 105.4 175.7 102.9 C184.8 100.4 194.2 96.6 202.8 93.9 C211.4 91.2 220.0 88.6 227.0 86.5 C234.0 84.4 240.8 82.6 245.0 81.4 C249.2 80.2 250.5 79.9 252.5 79.4 C254.5 79.0 252.2 78.7 257.0 78.7 C261.8 78.7 273.7 79.0 281.4 79.2 C289.1 79.5 298.5 80.0 303.0 80.2 C307.5 80.4 303.5 79.7 308.5 80.6 C313.5 81.5 327.6 85.3 333.0 85.8 C338.4 86.3 338.2 84.6 341.0 83.8 C343.8 83.0 345.7 82.7 350.0 81.2 C354.3 79.7 362.0 77.2 367.0 75.0 C372.0 72.8 376.7 69.9 380.0 68.1 C383.3 66.3 383.7 66.4 386.6 64.1 C389.5 61.8 394.6 57.2 397.6 54.5 C400.6 51.8 402.4 49.5 404.5 47.7 C406.6 45.9 407.8 44.8 410.0 43.6 C412.2 42.4 413.6 41.5 417.5 40.6 C421.4 39.7 428.6 38.3 433.7 38.1 C438.8 37.9 443.2 38.6 448.4 39.3 C453.6 40.0 459.8 41.5 464.7 42.2 C469.6 42.9 472.8 43.4 477.7 43.6 C482.6 43.8 489.4 43.2 493.9 43.5 C498.4 43.8 500.7 44.2 504.7 45.3 C508.7 46.3 512.8 47.5 517.8 49.8 C522.8 52.1 529.2 55.3 535.0 59.2 C540.8 63.1 547.0 68.9 552.5 73.2 C558.0 77.5 562.3 81.5 567.7 85.2 C573.1 88.9 579.6 92.6 585.0 95.2 C590.4 97.8 596.0 99.6 600.0 100.8 C604.0 102.0 606.4 102.2 609.0 102.4 C611.6 102.6 611.9 101.9 615.7 102.2 C619.5 102.5 627.0 102.6 632.0 104.0 C637.0 105.4 641.0 108.8 645.5 110.6 C650.0 112.4 653.1 113.7 659.0 114.7 C664.9 115.7 671.5 116.5 680.8 116.8 C690.1 117.1 709.1 116.8 714.7 116.8" stroke="#4a4a4a" stroke-width="1.7" fill="none" stroke-linejoin="round"/>
<path d="M424.6 62.4 L424.8 40 L426 22.5 L430.2 22.5 L431.4 40 L431.6 62.4 Z" fill="url(#pl1)"/>
<path d="M496.2 50 L496.6 30 L497.8 14 L501.8 14 L502.8 30 L503.2 50 Z" fill="url(#pl2)"/>
<path d="M44.8 19V198.4H716" fill="none" stroke="#8c8c8c" stroke-width="1.25"/>
<text x="40.3" y="38.5" class="t" text-anchor="end">1450</text>
<text x="40.3" y="59.8" class="t" text-anchor="end">1350</text>
<text x="40.3" y="81.0" class="t" text-anchor="end">1250</text>
<text x="40.3" y="102.3" class="t" text-anchor="end">1150</text>
<text x="40.3" y="123.6" class="t" text-anchor="end">1050</text>
<text x="40.3" y="144.8" class="t" text-anchor="end">950</text>
<text x="40.3" y="166.1" class="t" text-anchor="end">850</text>
<path d="M42.2 35.3H44.8M42.2 56.6H44.8M42.2 77.8H44.8M42.2 99.1H44.8M42.2 120.4H44.8M42.2 141.6H44.8M42.2 162.9H44.8" stroke="#8c8c8c" stroke-width="1"/>
<text x="43.6" y="23.6" class="m" text-anchor="end">m a.s.l.</text>
<text x="44.8" y="209.2" class="t" text-anchor="middle">0</text>
<text x="150.2" y="209.2" class="t" text-anchor="middle">500</text>
<text x="255.7" y="209.2" class="t" text-anchor="middle">1000</text>
<text x="361.2" y="209.2" class="t" text-anchor="middle">1500</text>
<text x="466.6" y="209.2" class="t" text-anchor="middle">2000</text>
<text x="572.0" y="209.2" class="t" text-anchor="middle">2500</text>
<text x="666.9" y="209.2" class="t" style="word-spacing:1.6px">3000 m</text>
<text x="51.6" y="28.3" class="n">NNE</text>
<text x="713.6" y="28.3" class="n" text-anchor="end">SSW</text>
<text x="51.4" y="55.5" class="p">Phase 3</text>
</g>
<g transform="translate(0 660.2)">
<path d="M64.8 156.3h5.2M67.4 153.7v5.2M94.2 156.3h5.2M96.8 153.7v5.2M123.5 156.3h5.2M126.1 153.7v5.2M152.8 156.3h5.2M155.4 153.7v5.2M182.2 156.3h5.2M184.8 153.7v5.2M211.5 156.3h5.2M214.1 153.7v5.2M240.9 156.3h5.2M243.5 153.7v5.2M270.2 156.3h5.2M272.8 153.7v5.2M299.6 156.3h5.2M302.2 153.7v5.2M328.9 156.3h5.2M331.6 153.7v5.2M358.3 156.3h5.2M360.9 153.7v5.2M387.7 156.3h5.2M390.3 153.7v5.2M417.0 156.3h5.2M419.6 153.7v5.2M446.4 156.3h5.2M449.0 153.7v5.2M475.7 156.3h5.2M478.3 153.7v5.2M505.1 156.3h5.2M507.7 153.7v5.2M534.4 156.3h5.2M537.0 153.7v5.2M563.8 156.3h5.2M566.4 153.7v5.2M593.1 156.3h5.2M595.7 153.7v5.2M622.5 156.3h5.2M625.1 153.7v5.2M651.8 156.3h5.2M654.4 153.7v5.2M681.2 156.3h5.2M683.8 153.7v5.2M710.5 156.3h5.2M713.1 153.7v5.2M49.9 171.4h5.2M52.5 168.8v5.2M79.2 171.4h5.2M81.8 168.8v5.2M108.6 171.4h5.2M111.2 168.8v5.2M137.9 171.4h5.2M140.5 168.8v5.2M167.3 171.4h5.2M169.9 168.8v5.2M196.6 171.4h5.2M199.2 168.8v5.2M226.0 171.4h5.2M228.6 168.8v5.2M255.3 171.4h5.2M257.9 168.8v5.2M284.7 171.4h5.2M287.3 168.8v5.2M314.1 171.4h5.2M316.7 168.8v5.2M343.4 171.4h5.2M346.0 168.8v5.2M372.8 171.4h5.2M375.4 168.8v5.2M402.1 171.4h5.2M404.7 168.8v5.2M431.5 171.4h5.2M434.1 168.8v5.2M460.8 171.4h5.2M463.4 168.8v5.2M490.2 171.4h5.2M492.8 168.8v5.2M519.5 171.4h5.2M522.1 168.8v5.2M548.9 171.4h5.2M551.5 168.8v5.2M578.2 171.4h5.2M580.8 168.8v5.2M607.6 171.4h5.2M610.2 168.8v5.2M636.9 171.4h5.2M639.5 168.8v5.2M666.3 171.4h5.2M668.9 168.8v5.2M695.6 171.4h5.2M698.2 168.8v5.2M64.8 186.0h5.2M67.4 183.4v5.2M94.2 186.0h5.2M96.8 183.4v5.2M123.5 186.0h5.2M126.1 183.4v5.2M152.8 186.0h5.2M155.4 183.4v5.2M182.2 186.0h5.2M184.8 183.4v5.2M211.5 186.0h5.2M214.1 183.4v5.2M240.9 186.0h5.2M243.5 183.4v5.2M270.2 186.0h5.2M272.8 183.4v5.2M299.6 186.0h5.2M302.2 183.4v5.2M328.9 186.0h5.2M331.6 183.4v5.2M358.3 186.0h5.2M360.9 183.4v5.2M387.7 186.0h5.2M390.3 183.4v5.2M417.0 186.0h5.2M419.6 183.4v5.2M446.4 186.0h5.2M449.0 183.4v5.2M475.7 186.0h5.2M478.3 183.4v5.2M505.1 186.0h5.2M507.7 183.4v5.2M534.4 186.0h5.2M537.0 183.4v5.2M563.8 186.0h5.2M566.4 183.4v5.2M593.1 186.0h5.2M595.7 183.4v5.2M622.5 186.0h5.2M625.1 183.4v5.2M651.8 186.0h5.2M654.4 183.4v5.2M681.2 186.0h5.2M683.8 183.4v5.2M710.5 186.0h5.2M713.1 183.4v5.2" stroke="#5c5c5c" stroke-width="0.9" fill="none"/>
<path d="M44.8 127.8 C49.0 127.3 62.7 126.2 70.0 125.0 C77.3 123.8 84.5 121.4 88.8 120.6 C93.1 119.8 93.6 120.9 95.6 120.3 C97.6 119.7 96.7 118.5 101.0 117.2 C105.3 115.9 113.5 113.8 121.4 112.4 C129.3 111.0 139.4 110.4 148.5 108.8 C157.6 107.2 166.6 105.4 175.7 102.9 C184.8 100.4 194.2 96.6 202.8 93.9 C211.4 91.2 220.0 88.6 227.0 86.5 C234.0 84.4 240.8 82.6 245.0 81.4 C249.2 80.2 250.5 79.9 252.5 79.4 C254.5 79.0 252.2 78.7 257.0 78.7 C261.8 78.7 273.7 79.0 281.4 79.2 C289.1 79.5 298.5 80.0 303.0 80.2 C307.5 80.4 303.1 79.4 308.5 80.6 C313.9 81.8 326.6 85.2 335.7 87.1 C344.8 89.0 355.6 90.8 362.8 91.8 C370.0 92.8 373.6 91.7 379.0 92.8 C384.4 93.9 388.1 96.6 395.3 98.6 C402.5 100.6 414.7 102.5 422.4 104.8 C430.1 107.1 435.5 110.0 441.4 112.4 C447.3 114.8 451.8 117.4 457.7 119.2 C463.6 121.0 470.8 122.0 476.7 123.0 C482.6 124.0 485.3 125.6 493.0 125.1 C500.7 124.5 515.5 121.0 522.8 119.7 C530.1 118.4 530.1 119.0 537.0 117.4 C543.9 115.8 557.5 111.6 564.0 110.0 C570.5 108.4 572.0 108.2 576.0 107.6 C580.0 107.0 584.3 106.8 588.0 106.4 C591.7 106.0 595.2 105.6 598.0 105.2 C600.8 104.8 601.8 104.3 604.8 103.8 C607.8 103.3 612.5 102.4 615.7 102.2 C618.9 102.0 621.1 102.4 623.8 102.8 C626.5 103.2 629.3 103.9 632.0 104.6 C634.7 105.3 637.4 105.6 640.1 106.8 C642.8 108.0 645.1 110.4 648.3 111.5 C651.5 112.6 654.1 112.6 659.1 113.3 C664.1 114.0 673.1 114.8 678.1 115.4 C683.1 116.0 685.4 116.6 689.0 116.9 C692.6 117.2 695.7 117.3 700.0 117.5 C704.3 117.7 712.2 117.8 714.7 117.8 L714.7 148.9 L44.8 161.6 Z" fill="url(#grid)"/>
<path d="M333.0 85.8 C334.3 85.5 338.2 84.6 341.0 83.8 C343.8 83.0 345.7 82.7 350.0 81.2 C354.3 79.7 362.0 77.2 367.0 75.0 C372.0 72.8 376.7 69.9 380.0 68.1 C383.3 66.3 383.7 66.4 386.6 64.1 C389.5 61.8 394.6 57.2 397.6 54.5 C400.6 51.8 402.4 49.5 404.5 47.7 C406.6 45.9 407.8 44.8 410.0 43.6 C412.2 42.4 413.6 41.5 417.5 40.6 C421.4 39.7 428.6 38.3 433.7 38.1 C438.8 37.9 443.2 38.6 448.4 39.3 C453.6 40.0 459.8 41.5 464.7 42.2 C469.6 42.9 472.8 43.4 477.7 43.6 C482.6 43.8 489.4 43.2 493.9 43.5 C498.4 43.8 500.7 44.2 504.7 45.3 C508.7 46.3 512.8 47.5 517.8 49.8 C522.8 52.1 529.2 55.3 535.0 59.2 C540.8 63.1 547.0 68.9 552.5 73.2 C558.0 77.5 562.3 81.5 567.7 85.2 C573.1 88.9 579.6 92.6 585.0 95.2 C590.4 97.8 596.0 99.6 600.0 100.8 C604.0 102.0 607.5 102.1 609.0 102.4 L609.0 102.4 C607.2 102.9 601.5 104.5 598.0 105.2 C594.5 105.9 591.7 106.0 588.0 106.4 C584.3 106.8 580.0 107.0 576.0 107.6 C572.0 108.2 570.5 108.4 564.0 110.0 C557.5 111.6 543.9 115.8 537.0 117.4 C530.1 119.0 530.1 118.4 522.8 119.7 C515.5 121.0 500.7 124.5 493.0 125.1 C485.3 125.6 482.6 124.0 476.7 123.0 C470.8 122.0 463.6 121.0 457.7 119.2 C451.8 117.4 447.3 114.8 441.4 112.4 C435.5 110.0 430.1 107.1 422.4 104.8 C414.7 102.5 402.5 100.6 395.3 98.6 C388.1 96.6 384.4 93.9 379.0 92.8 C373.6 91.7 370.0 92.8 362.8 91.8 C355.6 90.8 340.7 88.1 335.7 87.1 C330.7 86.1 333.4 86.0 333.0 85.8 Z" fill="#e9cdb9"/>
<path d="M128.0 158.0 C129.0 157.5 131.3 156.0 134.0 155.0 C136.7 154.0 138.6 153.0 144.4 152.0 C150.2 151.0 160.8 149.7 168.9 148.8 C177.1 147.9 185.2 147.3 193.3 146.4 C201.4 145.5 211.6 144.2 217.7 143.2 C223.8 142.2 227.0 141.4 230.0 140.6 C233.0 139.8 235.0 138.9 235.5 138.2 C236.0 137.5 235.2 136.8 233.0 136.2 C230.8 135.6 225.4 135.3 222.0 134.8 C218.6 134.3 213.8 133.8 212.5 133.2 C211.2 132.6 209.3 133.0 214.0 131.0 C218.7 129.0 231.7 124.2 240.7 121.4 C249.7 118.6 261.0 115.4 267.8 113.9 C274.6 112.4 276.9 112.7 281.4 112.6 C285.9 112.5 290.5 112.9 295.0 113.4 C299.5 113.9 301.7 113.9 308.5 115.8 C315.3 117.7 326.6 121.9 335.7 125.0 C344.8 128.1 352.1 131.9 362.8 134.6 C373.5 137.3 389.2 139.8 400.0 141.4 C410.8 143.0 418.6 143.1 427.8 144.3 C437.0 145.5 448.2 147.2 455.0 148.6 C461.8 150.0 466.2 151.9 468.5 152.6 L469 154.1 L131 160.5 Z" fill="#3cb44a"/>
<path d="M44.8 161.6 L714.7 148.9" stroke="#4a4a4a" stroke-width="1.4" fill="none"/>
<path d="M466.0 121.5 L480.0 115.5 L496.0 116.0 L508.0 120.0 L512.0 123.5 L490.0 125.4 L470.0 124.0 Z" fill="#b9e2b4"/>
<path d="M468.0 120.0 L480.0 115.5 L496.0 116.0 L506.0 119.5 L500.0 122.6 L482.0 122.8 Z" fill="#3cb44a"/>
<path d="M386.5 65.0 L395.0 58.5 L406.5 71.9 L396.0 74.5 Z" fill="#b9e2b4"/>
<path d="M394.5 59.4 L401.5 52.8 L412.4 67.2 L406.0 71.6 Z" fill="#3cb44a"/>
<path d="M383.0 91.0 L395.0 88.6 L408.0 87.2 L415.0 85.4 L419.0 78.0 L412.4 67.2 L403.0 50.4 L410.5 44.2 L422.0 58.0 L430.0 70.0 L437.0 85.0 L442.0 98.0 L446.0 112.0 L440.0 104.0 L430.0 100.0 L415.0 99.6 L400.0 96.5 L390.0 93.6 Z" fill="#c8925f"/>
<path d="M415.0 97.5 L428.0 96.0 L438.0 99.0 L446.0 112.5 L440.0 113.0 L430.0 108.5 L421.0 103.0 Z" fill="#b9e2b4"/>
<path d="M431.0 95.0 L438.3 90.8 L444.2 100.0 L447.5 113.0 L440.0 108.0 L434.3 100.6 Z" fill="#3cb44a"/>
<path d="M414.0 42.4 L426.0 39.5 L431.6 38.6 L448.0 39.6 L448.5 60.0 L448.0 92.0 L446.0 106.0 L438.0 86.0 L430.0 70.0 L422.0 58.0 Z" fill="#f0dccb"/>
<path d="M403.0 50.4 L410.5 44.2 L426.0 39.8 L431.6 38.6 L448.0 39.6 L448.5 60.0 L448.0 92.0 L445.0 104.0 L432.0 90.0 L424.0 80.0 L414.0 66.0 Z" fill="url(#dotsT)"/>
<path d="M419.6 42.0 C419.7 45.3 419.6 56.2 420.4 62.0 C421.2 67.8 422.7 72.5 424.5 77.0 C426.3 81.5 428.8 85.5 431.0 89.0 C433.2 92.5 435.8 94.8 438.0 98.0 C440.2 101.2 443.0 106.3 444.0 108.0" fill="none" stroke="#f3e2c9" stroke-width="4.2" stroke-linecap="butt" stroke-linejoin="round"/>
<path d="M447.0 44.2 L455.0 43.0 L463.0 45.4 L464.0 59.4 L456.0 61.0 L448.5 55.0 Z" fill="#3cb44a"/>
<path d="M448.5 59.8 L456.0 61.0 L464.0 59.4 L479.4 59.2 L478.0 70.0 L473.0 86.0 L467.0 102.0 L461.0 118.0 L458.0 128.0 L450.0 128.0 L449.0 112.0 L448.0 90.0 Z" fill="#c8925f"/>
<path d="M447.4 91.6 L453.0 95.0 L454.5 103.0 L452.6 111.5 L449.0 106.0 Z" fill="#3cb44a"/>
<path d="M496.0 44.0 L502.6 46.3 L511.3 48.4 L509.0 72.0 L513.4 80.2 L541.6 71.5 L535.0 91.0 L516.0 102.5 L540.0 106.0 L555.0 110.0 L540.0 114.0 L526.4 117.3 L510.0 120.5 L496.0 116.0 L480.0 115.5 L468.0 120.0 L459.0 124.0 L468.0 117.0 L479.0 106.0 L489.0 92.0 L495.5 75.0 Z" fill="#c8925f"/>
<path d="M479.4 43.8 L506.0 46.8 L505.0 62.0 L500.0 76.0 L489.0 92.0 L479.0 106.0 L468.0 117.0 L459.0 124.0 L467.0 102.0 L473.0 86.0 L478.0 66.0 Z" fill="#f0dccb"/>
<path d="M479.4 43.8 L506.0 46.8 L505.0 62.0 L500.0 76.0 L489.0 92.0 L479.0 106.0 L468.0 117.0 L459.0 124.0 L467.0 102.0 L473.0 86.0 L478.0 66.0 Z" fill="url(#dotsT)"/>
<path d="M492.2 45.7 C492.2 48.1 492.1 55.1 492.0 60.0 C491.9 64.9 492.7 70.0 491.6 75.0 C490.5 80.0 488.6 84.6 485.5 89.7 C482.4 94.8 477.2 100.4 473.3 105.5 C469.4 110.6 464.1 117.8 462.3 120.2" fill="none" stroke="#f6ebe0" stroke-width="3.0" stroke-linecap="butt" stroke-linejoin="round"/>
<path d="M509.0 75.0 L508.4 48.2 L518.6 51.2 L514.4 78.0 Z" fill="#b9e2b4"/>
<path d="M511.0 76.0 L512.2 50.0 L516.4 51.2 L514.0 78.0 Z" fill="#3cb44a"/>
<path d="M515.0 79.0 L518.5 52.0 L526.0 55.5 L517.0 80.0 Z" fill="#d9a27c"/>
<path d="M512.3 80.0 L526.0 55.8 L537.5 63.6 L541.0 66.8 L520.0 77.6 Z" fill="#b9e2b4"/>
<path d="M513.0 79.4 L527.5 57.4 L536.5 63.4 L524.0 72.4 Z" fill="#3cb44a"/>
<path d="M516.0 102.5 L535.0 91.0 L541.6 80.0 L552.5 77.0 L562.0 88.0 L548.0 96.0 L530.0 101.5 Z" fill="#b9e2b4"/>
<path d="M428.4 225.4 L430.4 170 C430.4 162 429 158 423 154.4 L451 142 L458 147.5 L466 152.4 L456 153.8 C449 158 445 160 443.8 170 L440 225.4 Z" fill="#3cb44a"/>
<path d="M416 143.6 C428 143.2 436 141.6 441.5 136 L441 151 L416 151 Z" fill="#3cb44a"/>
<path d="M445.6 113.9 C445.8 116.3 447.6 123.5 447.0 128.3 C446.4 133.1 443.6 138.5 442.0 142.8 C440.4 147.2 438.7 149.6 437.2 154.4 C435.7 159.2 433.7 164.2 432.8 171.7 C431.9 179.1 432.3 190.2 431.8 199.1 C431.3 208.0 430.2 220.7 429.9 225.0 L439.7 225.0 C440.0 220.7 440.7 208.0 441.4 199.1 C442.1 190.2 442.9 179.1 444.0 171.7 C445.1 164.2 446.1 159.2 448.0 154.4 C449.9 149.6 453.2 146.5 455.4 142.8 C457.6 139.1 459.7 135.5 461.0 132.0 C462.3 128.5 463.2 125.0 463.4 122.0 C463.6 119.0 462.2 115.3 462.0 114.0 Z" fill="#c8925f"/>
<path d="M485.5 95.4 C484.1 96.9 479.9 101.7 477.0 104.5 C474.1 107.3 470.6 109.9 468.0 112.5 C465.4 115.1 463.2 117.1 461.6 120.0 C460.0 122.9 459.7 126.4 458.4 130.0 C457.1 133.6 455.8 137.4 454.0 141.5 C452.2 145.6 448.5 152.2 447.4 154.4" fill="none" stroke="#f2bfa4" stroke-width="2.6" stroke-linecap="butt" stroke-linejoin="round"/>
<path d="M431.5 46.0 C431.8 47.3 431.6 51.2 433.0 53.7 C434.4 56.2 437.4 58.4 439.6 61.3 C441.8 64.1 444.6 67.6 446.3 70.8 C448.0 74.0 448.8 76.8 450.0 80.3 C451.2 83.8 452.8 87.6 453.4 91.7 C454.0 95.8 454.0 100.3 453.6 104.7 C453.2 109.1 451.8 114.6 451.0 118.0 C450.2 121.4 450.1 120.9 449.0 125.0 C447.9 129.1 446.2 137.9 444.6 142.8 C443.0 147.7 441.2 149.6 439.6 154.4 C438.0 159.2 436.2 164.3 435.2 171.7 C434.2 179.1 434.3 190.2 433.8 199.0 C433.3 207.8 432.3 220.3 432.0 224.6" fill="none" stroke="#ec7464" stroke-width="4.8" stroke-linecap="butt" stroke-linejoin="round"/>
<path d="M431.5 46.0 C431.8 47.3 431.6 51.2 433.0 53.7 C434.4 56.2 437.4 58.4 439.6 61.3 C441.8 64.1 444.6 67.6 446.3 70.8 C448.0 74.0 448.8 76.8 450.0 80.3 C451.2 83.8 452.8 87.6 453.4 91.7 C454.0 95.8 454.0 100.3 453.6 104.7 C453.2 109.1 451.8 114.6 451.0 118.0 C450.2 121.4 450.1 120.9 449.0 125.0 C447.9 129.1 446.2 137.9 444.6 142.8 C443.0 147.7 441.2 149.6 439.6 154.4 C438.0 159.2 436.2 164.3 435.2 171.7 C434.2 179.1 434.3 190.2 433.8 199.0 C433.3 207.8 432.3 220.3 432.0 224.6" fill="none" stroke="#b8124f" stroke-width="1.1" stroke-linecap="butt" stroke-linejoin="round"/>
<path d="M255.6 79 C256 88 257.5 95 259.8 100.4 M264.8 79.4 C265.4 84 266.6 88 268.2 91.4 M280 79.6 C281.5 83 283.5 86.5 286 89.6 M292.3 80.2 C290.5 84 288.5 87 286 89.6 C285.4 91.5 285 93 284.4 95 M304.6 81.2 C302 88 299 94.5 295 100.4" fill="none" stroke="#444" stroke-width="1.3" stroke-linecap="round"/>
<path d="M44.8 127.8 C49.0 127.3 62.7 126.2 70.0 125.0 C77.3 123.8 84.5 121.4 88.8 120.6 C93.1 119.8 93.6 120.9 95.6 120.3 C97.6 119.7 96.7 118.5 101.0 117.2 C105.3 115.9 113.5 113.8 121.4 112.4 C129.3 111.0 139.4 110.4 148.5 108.8 C157.6 107.2 166.6 105.4 175.7 102.9 C184.8 100.4 194.2 96.6 202.8 93.9 C211.4 91.2 220.0 88.6 227.0 86.5 C234.0 84.4 240.8 82.6 245.0 81.4 C249.2 80.2 250.5 79.9 252.5 79.4 C254.5 79.0 252.2 78.7 257.0 78.7 C261.8 78.7 273.7 79.0 281.4 79.2 C289.1 79.5 298.5 80.0 303.0 80.2 C307.5 80.4 303.5 79.7 308.5 80.6 C313.5 81.5 327.6 85.3 333.0 85.8 C338.4 86.3 338.2 84.6 341.0 83.8 C343.8 83.0 345.7 82.7 350.0 81.2 C354.3 79.7 362.0 77.2 367.0 75.0 C372.0 72.8 376.7 69.9 380.0 68.1 C383.3 66.3 383.7 66.4 386.6 64.1 C389.5 61.8 394.6 57.2 397.6 54.5 C400.6 51.8 402.4 49.5 404.5 47.7 C406.6 45.9 407.8 44.8 410.0 43.6 C412.2 42.4 413.6 41.5 417.5 40.6 C421.4 39.7 428.6 38.3 433.7 38.1 C438.8 37.9 443.2 38.6 448.4 39.3 C453.6 40.0 459.8 41.5 464.7 42.2 C469.6 42.9 472.8 43.4 477.7 43.6 C482.6 43.8 489.4 43.2 493.9 43.5 C498.4 43.8 500.7 44.2 504.7 45.3 C508.7 46.3 512.8 47.5 517.8 49.8 C522.8 52.1 529.2 55.3 535.0 59.2 C540.8 63.1 547.0 68.9 552.5 73.2 C558.0 77.5 562.3 81.5 567.7 85.2 C573.1 88.9 579.6 92.6 585.0 95.2 C590.4 97.8 596.0 99.6 600.0 100.8 C604.0 102.0 606.4 102.2 609.0 102.4 C611.6 102.6 613.2 102.1 615.7 102.2 C618.2 102.3 621.1 102.4 623.8 102.8 C626.5 103.2 629.3 103.9 632.0 104.6 C634.7 105.3 637.4 105.6 640.1 106.8 C642.8 108.0 645.1 110.4 648.3 111.5 C651.5 112.6 654.1 112.6 659.1 113.3 C664.1 114.0 673.1 114.8 678.1 115.4 C683.1 116.0 685.4 116.6 689.0 116.9 C692.6 117.2 695.7 117.3 700.0 117.5 C704.3 117.7 712.2 117.8 714.7 117.8" stroke="#4a4a4a" stroke-width="1.7" fill="none" stroke-linejoin="round"/>
<path d="M337.0 84.2 C339.2 83.6 345.0 82.2 350.0 80.6 C355.0 79.0 362.0 76.6 367.0 74.4 C372.0 72.2 376.2 69.7 380.0 67.4 C383.8 65.1 386.7 63.1 390.0 60.4 C393.3 57.7 397.1 53.7 400.0 51.0 C402.9 48.3 404.8 46.4 407.6 44.2 C410.5 42.0 414.2 39.5 417.1 38.0 C420.0 36.5 422.3 35.8 425.0 35.0 C427.7 34.2 430.9 33.3 433.4 33.3 C435.9 33.3 438.2 34.3 440.0 35.0 C441.8 35.7 442.8 36.6 444.3 37.3 C445.8 38.0 448.2 39.0 449.0 39.4 L449.0 40.6 L441.6 39.6 L436.5 43.6 L433.0 50.0 L431.0 54.0 L429.0 47.0 L425.3 42.0 L417.1 42.6 L407.6 48.6 L400.0 55.0 L390.0 63.8 L380.0 70.6 L367.0 77.4 L350.0 83.6 L341.0 86.0 L337.0 86.2 Z" fill="#c4145c"/>
<path d="M44.8 19V198.4H716" fill="none" stroke="#8c8c8c" stroke-width="1.25"/>
<text x="40.3" y="38.5" class="t" text-anchor="end">1450</text>
<text x="40.3" y="59.8" class="t" text-anchor="end">1350</text>
<text x="40.3" y="81.0" class="t" text-anchor="end">1250</text>
<text x="40.3" y="102.3" class="t" text-anchor="end">1150</text>
<text x="40.3" y="123.6" class="t" text-anchor="end">1050</text>
<text x="40.3" y="144.8" class="t" text-anchor="end">950</text>
<text x="40.3" y="166.1" class="t" text-anchor="end">850</text>
<path d="M42.2 35.3H44.8M42.2 56.6H44.8M42.2 77.8H44.8M42.2 99.1H44.8M42.2 120.4H44.8M42.2 141.6H44.8M42.2 162.9H44.8" stroke="#8c8c8c" stroke-width="1"/>
<text x="43.6" y="23.6" class="m" text-anchor="end">m a.s.l.</text>
<text x="44.8" y="209.2" class="t" text-anchor="middle">0</text>
<text x="150.2" y="209.2" class="t" text-anchor="middle">500</text>
<text x="255.7" y="209.2" class="t" text-anchor="middle">1000</text>
<text x="361.2" y="209.2" class="t" text-anchor="middle">1500</text>
<text x="466.6" y="209.2" class="t" text-anchor="middle">2000</text>
<text x="572.0" y="209.2" class="t" text-anchor="middle">2500</text>
<text x="666.9" y="209.2" class="t" style="word-spacing:1.6px">3000 m</text>
<text x="51.6" y="28.2" class="n">NNE</text>
<text x="713.6" y="28.2" class="n" text-anchor="end">SSW</text>
<text x="51.4" y="55.5" class="p">Phase 4</text>
<text x="167" y="62.4" class="p">Petit Puy de Dôme</text>
<text x="383" y="28.6" class="p">Puy de Dôme</text>
<text x="599" y="86" class="p">Puy Redon</text>
</g>
</svg>
<div class="b"></div>
</body>
</html>
